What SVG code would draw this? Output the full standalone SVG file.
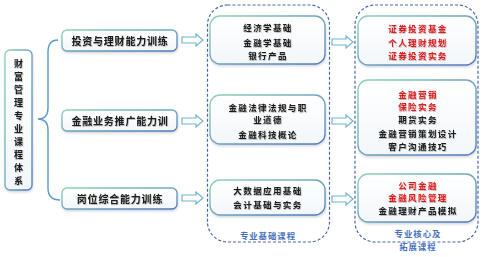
<svg xmlns="http://www.w3.org/2000/svg" width="485" height="257" viewBox="0 0 485 257">
<defs>
<linearGradient id="bg" x1="0" y1="0" x2="1" y2="1">
<stop offset="0" stop-color="#8fd3b8"/>
<stop offset="1" stop-color="#4f78c0"/>
</linearGradient>
<linearGradient id="fillg" x1="0" y1="0" x2="0" y2="1">
<stop offset="0" stop-color="#ffffff"/>
<stop offset="1" stop-color="#f3f7fa"/>
</linearGradient>
<filter id="sh" x="-10%" y="-10%" width="120%" height="130%">
<feDropShadow dx="0.5" dy="1.5" stdDeviation="1" flood-color="#7a8aa0" flood-opacity="0.35"/>
</filter>
<filter id="tsh" x="-5%" y="-20%" width="110%" height="150%">
<feDropShadow dx="0.6" dy="0.8" stdDeviation="0.5" flood-color="#000" flood-opacity="0.3"/>
</filter>
<path id="arr" d="M0,-3 L14,-3 L14,-6 L21,0 L14,6 L14,3 L0,3 Z"/>
</defs>
<style>
.box{fill:url(#fillg);stroke:url(#bg);stroke-width:1.3;filter:url(#sh)}
.cont{fill:none;stroke:#4a68a8;stroke-width:1.2;stroke-dasharray:3,2}
.t{font-family:"Noto Sans CJK SC","Noto Sans CJK TC",sans-serif;font-weight:bold;font-size:8.5px;letter-spacing:1.4px;text-anchor:middle;fill:#1a1a1a;filter:url(#tsh)}
.m{font-size:10px;letter-spacing:0.8px}
.r{fill:#e01b1b}
.lab{font-family:"Noto Sans CJK SC",sans-serif;font-weight:bold;font-size:8.4px;letter-spacing:1px;text-anchor:middle;fill:#4a72c0}
.a{fill:#fff;stroke:#70b4d0;stroke-width:1.2}
.brace{fill:none;stroke:#5a9ac8;stroke-width:1.4}
</style>
<rect width="485" height="257" fill="#ffffff"/>

<g id="containers">
<rect class="cont" x="207.5" y="5" width="122" height="237" rx="20"/>
<text class="lab" x="268" y="239">专业基础课程</text>
<rect class="cont" x="355" y="5" width="123" height="237" rx="20"/>
<text class="lab" x="418" y="237">专业核心及</text>
<text class="lab" x="418" y="250">拓展课程</text>
</g>

<g id="root">
<rect class="box" x="5" y="50" width="27" height="140" rx="5"/>
<g class="t" style="font-size:9px;letter-spacing:0">
<text x="18.5" y="67">财</text>
<text x="18.5" y="80">富</text>
<text x="18.5" y="93">管</text>
<text x="18.5" y="106">理</text>
<text x="18.5" y="119">专</text>
<text x="18.5" y="132">业</text>
<text x="18.5" y="145">课</text>
<text x="18.5" y="158">程</text>
<text x="18.5" y="171">体</text>
<text x="18.5" y="184">系</text>
</g>
</g>

<g id="connectors">
<path class="brace" d="M58,40 Q48,40 48,52 L48,108 Q48,119 38,119 Q48,119 48,130 L48,188 Q48,200 60,200"/>
<use href="#arr" class="a" x="182" y="40"/>
<use href="#arr" class="a" x="182" y="121"/>
<use href="#arr" class="a" x="182" y="198"/>
<use href="#arr" class="a" x="332" y="42"/>
<use href="#arr" class="a" x="332" y="121"/>
<use href="#arr" class="a" x="332" y="199"/>
</g>

<g id="n1">
<rect class="box" x="62" y="30" width="115" height="21" rx="5"/>
<text class="t m" x="120" y="44.5">投资与理财能力训练</text>
</g>
<g id="n2">
<rect class="box" x="62" y="110" width="115" height="21" rx="5"/>
<text class="t m" x="120" y="124.5">金融业务推广能力训</text>
</g>
<g id="n3">
<rect class="box" x="62" y="188" width="115" height="21" rx="5"/>
<text class="t m" x="120" y="202.5">岗位综合能力训练</text>
</g>

<g id="b1">
<rect class="box" x="210" y="16" width="115" height="48" rx="10"/>
<text class="t" x="268" y="31">经济学基础</text>
<text class="t" x="268" y="45.5">金融学基础</text>
<text class="t" x="268" y="59">银行产品</text>
</g>
<g id="b2">
<rect class="box" x="210" y="95" width="115" height="49" rx="10"/>
<text class="t" x="268" y="110.5">金融法律法规与职</text>
<text class="t" x="268" y="123">业道德</text>
<text class="t" x="268" y="138">金融科技概论</text>
</g>
<g id="b3">
<rect class="box" x="210" y="180" width="115" height="35" rx="10"/>
<text class="t" x="268" y="194">大数据应用基础</text>
<text class="t" x="268" y="208">会计基础与实务</text>
</g>

<g id="c1">
<rect class="box" x="358" y="16" width="118" height="49" rx="10"/>
<text class="t r" x="418" y="31.5">证券投资基金</text>
<text class="t r" x="418" y="45.5">个人理财规划</text>
<text class="t r" x="418" y="59">证券投资实务</text>
</g>
<g id="c2">
<rect class="box" x="358" y="80" width="118" height="75" rx="10"/>
<text class="t r" x="418" y="97.5">金融营销</text>
<text class="t r" x="418" y="110">保险实务</text>
<text class="t" x="418" y="122.5">期货实务</text>
<text class="t" x="418" y="137">金融营销策划设计</text>
<text class="t" x="418" y="149.5">客户沟通技巧</text>
</g>
<g id="c3">
<rect class="box" x="358" y="174" width="118" height="48" rx="10"/>
<text class="t r" x="418" y="188.5">公司金融</text>
<text class="t r" x="418" y="201">金融风险管理</text>
<text class="t" x="418" y="213.5">金融理财产品模拟</text>
</g>
</svg>
